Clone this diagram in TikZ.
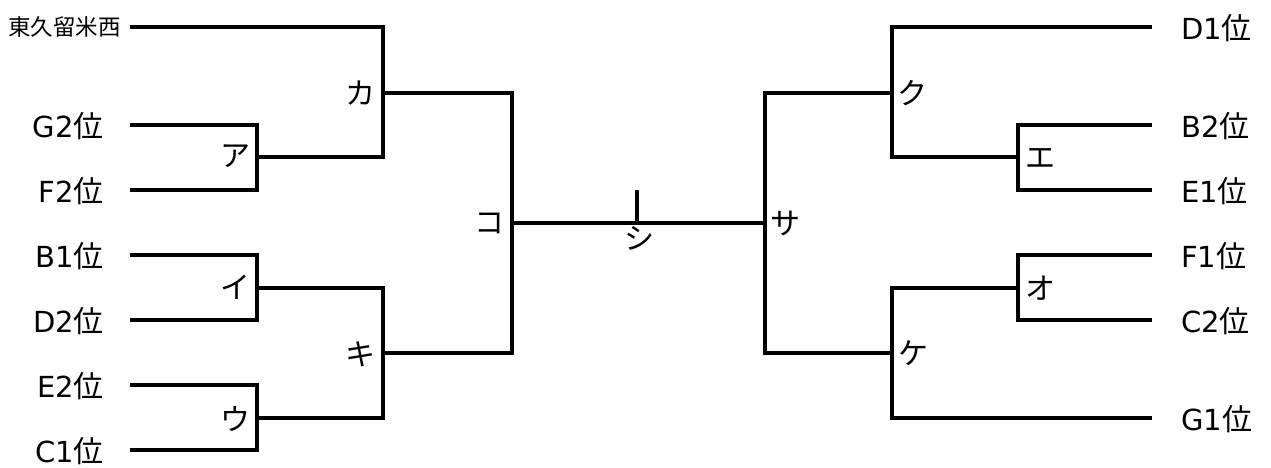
\documentclass[tikz,border=0pt]{standalone}
\usepackage{fontspec}
\setmainfont{DejaVu Sans}
\newfontfamily\cjkf{Noto Sans CJK JP}
\newcommand\rk[1]{{\fontsize{29}{29}\selectfont #1\cjkf\fontsize{30}{30}\selectfont 位}}
\begin{document}
\begin{tikzpicture}[x=1pt,y=-1pt,
  bline/.style={line width=3.4pt,line join=miter,line cap=butt},
  team/.style={inner sep=0pt,font=\fontsize{29}{29}\selectfont},
  mlab/.style={inner sep=0pt,font=\cjkf\fontsize{30}{30}\selectfont}]
\useasboundingbox (0,0) rectangle (1271,468);
% left entrant line ends
\coordinate (s1) at (130,27);
\coordinate (g2) at (130,125);
\coordinate (f2) at (130,190);
\coordinate (b1) at (130,255);
\coordinate (d2) at (130,320);
\coordinate (e2) at (130,385);
\coordinate (c1) at (130,450);
% right entrant line ends
\coordinate (d1) at (1152,27);
\coordinate (b2) at (1152,125);
\coordinate (e1) at (1152,190);
\coordinate (f1) at (1152,255);
\coordinate (c2) at (1152,320);
\coordinate (g1) at (1152,418);
% join points
\coordinate (a) at (257,157);
\coordinate (i) at (257,288);
\coordinate (u) at (257,418);
\coordinate (ka) at (383,93);
\coordinate (ki) at (383,353);
\coordinate (ko) at (512,223);
\coordinate (shi) at (637,223);
\coordinate (shitop) at (637,190);
\coordinate (sa) at (765,223);
\coordinate (ku) at (892,93);
\coordinate (ke) at (892,353);
\coordinate (e) at (1018,157);
\coordinate (o) at (1018,288);
% team labels
\node[team,anchor=east,font=\cjkf\fontsize{22.5}{22.5}\selectfont] (ts1) at (121,27) {東久留米西};
\node[team,anchor=east] (tg2) at (104,126) {\rk{G2}};
\node[team,anchor=east] (tf2) at (104,191) {\rk{F2}};
\node[team,anchor=east] (tb1) at (104,256) {\rk{B1}};
\node[team,anchor=east] (td2) at (104,321) {\rk{D2}};
\node[team,anchor=east] (te2) at (104,386) {\rk{E2}};
\node[team,anchor=east] (tc1) at (104,451) {\rk{C1}};
\node[team,anchor=west] (td1) at (1181,28) {\rk{D1}};
\node[team,anchor=west] (tb2) at (1181,126) {\rk{B2}};
\node[team,anchor=west] (te1) at (1181,191) {\rk{E1}};
\node[team,anchor=west] (tf1) at (1181,256) {\rk{F1}};
\node[team,anchor=west] (tc2) at (1181,321) {\rk{C2}};
\node[team,anchor=west] (tg1) at (1181,419) {\rk{G1}};
% match labels
\node[mlab] (la) at (235,156) {ア};
\node[mlab] (li) at (235,287) {イ};
\node[mlab] (lu) at (235,419) {ウ};
\node[mlab] (lka) at (360,93) {カ};
\node[mlab] (lki) at (360,354) {キ};
\node[mlab] (lko) at (489,223) {コ};
\node[mlab] (lshi) at (639,238) {シ};
\node[mlab] (lsa) at (785,224) {サ};
\node[mlab] (lku) at (912,93) {ク};
\node[mlab] (lke) at (913,353) {ケ};
\node[mlab] (le) at (1040,158) {エ};
\node[mlab] (lo) at (1040,288) {オ};
% bracket lines
\draw[bline] (g2) -| (a) |- (f2);
\draw[bline] (b1) -| (i) |- (d2);
\draw[bline] (e2) -| (u) |- (c1);
\draw[bline] (s1) -| (ka) |- (a);
\draw[bline] (i) -| (ki) |- (u);
\draw[bline] (ka) -| (ko) |- (ki);
\draw[bline] (ko) -- (sa);
\draw[bline] (shi) -- (shitop);
\draw[bline] (ku) -| (sa) |- (ke);
\draw[bline] (d1) -| (ku) |- (e);
\draw[bline] (b2) -| (e) |- (e1);
\draw[bline] (o) -| (ke) |- (g1);
\draw[bline] (f1) -| (o) |- (c2);
\end{tikzpicture}
\end{document}
